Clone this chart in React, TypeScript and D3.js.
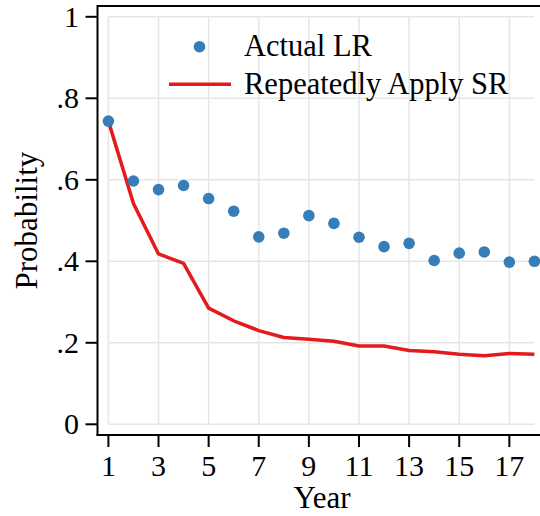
import React from "react";
import * as d3 from "d3";

// Year index on the horizontal axis
const years: number[] = [1, 2, 3, 4, 5, 6, 7, 8, 9, 10, 11, 12, 13, 14, 15, 16, 17, 18];

// Observed long-run probability by year
const actualLR: number[] = [
  0.744, 0.597, 0.576, 0.586, 0.554, 0.523, 0.46, 0.469, 0.512, 0.493, 0.459, 0.436, 0.444,
  0.402, 0.42, 0.423, 0.398, 0.4,
];

// Probability implied by repeatedly applying the short-run rate
const repeatedSR: number[] = [
  0.744, 0.542, 0.418, 0.395, 0.285, 0.254, 0.23, 0.213, 0.209, 0.204, 0.192, 0.192, 0.181,
  0.178, 0.172, 0.168, 0.174, 0.172,
];

const xTicks: number[] = [1, 3, 5, 7, 9, 11, 13, 15, 17];
const yTicks: number[] = [0, 0.2, 0.4, 0.6, 0.8, 1];
const yTickLabels: string[] = ["0", ".2", ".4", ".6", ".8", "1"];

const seriesNames: string[] = ["Actual LR", "Repeatedly Apply SR"];

const W = 540;
const H = 516;
const BLUE = "#377eb8";
const RED = "#e41a1c";
const GRID = "#e6e6e6";
const FONT = "'Liberation Serif', 'Times New Roman', serif";
const TICK_FS = 30;
const TITLE_FS = 31;
const LEGEND_FS = 30.5;

export default function App() {
  const x = d3.scaleLinear().domain([1, 18]).range([108.4, 534.4]);
  const y = d3.scaleLinear().domain([0, 1]).range([424.3, 16.8]);

  const frameLeft = 97.5;
  const frameTop = 6;
  const frameBottom = 435;

  const line = d3
    .line<number>()
    .x((_, i) => x(years[i]))
    .y((d) => y(d));

  return (
    <svg
      width={W}
      height={H}
      style={{ position: "absolute", left: 0, top: 0, background: "#fff" }}
      fontFamily={FONT}
    >
      {/* grid */}
      {yTicks.map((t) => (
        <line key={"gy" + t} x1={x(1)} x2={x(18)} y1={y(t)} y2={y(t)} stroke={GRID} strokeWidth={1.5} />
      ))}
      {xTicks.map((t) => (
        <line key={"gx" + t} x1={x(t)} x2={x(t)} y1={y(1)} y2={y(0)} stroke={GRID} strokeWidth={1.5} />
      ))}

      {/* frame */}
      <line x1={frameLeft} x2={W + 5} y1={frameTop} y2={frameTop} stroke="#000" strokeWidth={2} />
      <line x1={frameLeft} x2={frameLeft} y1={frameTop - 1} y2={frameBottom + 1} stroke="#000" strokeWidth={2} />
      <line x1={frameLeft - 1} x2={W + 5} y1={frameBottom} y2={frameBottom} stroke="#000" strokeWidth={2} />

      {/* y axis ticks and labels */}
      {yTicks.map((t, i) => (
        <g key={"yt" + t}>
          <line x1={frameLeft - 12} x2={frameLeft} y1={y(t)} y2={y(t)} stroke="#000" strokeWidth={2} />
          <text x={79} y={y(t)} dy="0.33em" textAnchor="end" fontSize={TICK_FS} fill="#000">
            {yTickLabels[i]}
          </text>
        </g>
      ))}

      {/* x axis ticks and labels */}
      {xTicks.map((t) => (
        <g key={"xt" + t}>
          <line x1={x(t)} x2={x(t)} y1={frameBottom} y2={frameBottom + 12} stroke="#000" strokeWidth={2} />
          <text x={x(t)} y={476} textAnchor="middle" fontSize={TICK_FS} fill="#000">
            {t}
          </text>
        </g>
      ))}

      {/* axis titles */}
      <text x={322} y={508} textAnchor="middle" fontSize={TITLE_FS} fill="#000">
        Year
      </text>
      <text
        transform={`translate(37, ${(y(0) + y(1)) / 2}) rotate(-90)`}
        textAnchor="middle"
        fontSize={TITLE_FS}
        fill="#000"
      >
        Probability
      </text>

      {/* series */}
      <path d={line(repeatedSR) || ""} fill="none" stroke={RED} strokeWidth={3.5} strokeLinejoin="round" />
      {actualLR.map((v, i) => (
        <circle key={"pt" + i} cx={x(years[i])} cy={y(v)} r={5.8} fill={BLUE} />
      ))}

      {/* legend */}
      <circle cx={199.5} cy={46.7} r={5.8} fill={BLUE} />
      <text x={244} y={56} fontSize={LEGEND_FS} fill="#000">
        {seriesNames[0]}
      </text>
      <line x1={169} x2={231} y1={84.3} y2={84.3} stroke={RED} strokeWidth={3.5} />
      <text x={244} y={94} fontSize={LEGEND_FS} fill="#000">
        {seriesNames[1]}
      </text>
    </svg>
  );
}
